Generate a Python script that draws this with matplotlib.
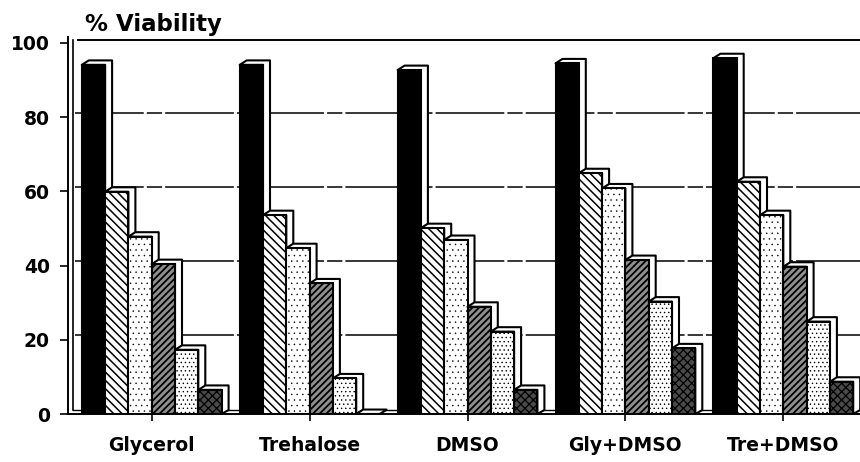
import matplotlib
matplotlib.use("Agg")
import matplotlib.pyplot as plt
from matplotlib.patches import Rectangle, Polygon
import numpy as np

plt.rcParams['font.family'] = ['DejaVu Sans']
plt.rcParams['hatch.linewidth'] = 1.0

# Cryoprotectant treatments (x groups)
categories = ["Glycerol", "Trehalose", "DMSO", "Gly+DMSO", "Tre+DMSO"]

# Six series per treatment, % viability
series_1 = [94.1, 94.1, 92.7, 94.5, 95.9]
series_2 = [59.9, 53.6, 50.1, 64.9, 62.6]
series_3 = [47.8, 44.7, 46.9, 60.8, 53.6]
series_4 = [40.4, 35.2, 28.9, 41.5, 39.7]
series_5 = [17.3, 9.6, 22.2, 30.3, 24.9]
series_6 = [6.5, 0.0, 6.5, 17.7, 8.7]
all_series = [series_1, series_2, series_3, series_4, series_5, series_6]

y_ticks = [0, 20, 40, 60, 80, 100]

# fill style of each series: (facecolor, hatch, hatch linewidth)
styles = [
    ("black", None, 1.0),
    ("white", "\\\\\\\\", 1.1),
    ("white", "...", 0.3),
    ("#8f8f8f", "/////", 1.3),
    ("white", "....", 0.5),
    ("#4a4a4a", "xxxx", 0.9),
]

fig = plt.figure(figsize=(8.6, 4.62), dpi=100)
W, H = 860, 462
ax_left_px, ax_bottom_px, ax_top_px = 68, 414, 37.4
ax = fig.add_axes([ax_left_px / W, (H - ax_bottom_px) / H,
                   1 - ax_left_px / W, (ax_bottom_px - ax_top_px) / H])

group_px = 157.9
xlim = ((68 - 151.7) / group_px, (860 - 151.7) / group_px)
ax.set_xlim(*xlim)
ax.set_ylim(0, 101.5)

bar_w = 23.3 / group_px
dx = 7 / group_px     # depth offset (x, data units)
dy = 1.2              # depth offset (y, data units)

# back-wall gridlines
for v in y_ticks[1:-1]:
    ax.plot([xlim[0] + dx, xlim[1]], [v + dy, v + dy], color="black", lw=1.1,
            linestyle=(0, (45, 2, 10, 2)), zorder=0)
# top frame line
ax.plot([xlim[0] + 10 / group_px, xlim[1]], [100 + dy * 0.6] * 2, color="black",
        lw=1.4, zorder=0, clip_on=False)
# floor line
ax.plot([xlim[0] + 5 / group_px, xlim[1]], [dy * 0.9] * 2, color="black", lw=1.0, zorder=0)
# inner wall line
ax.plot([xlim[0] + 5 / group_px] * 2, [dy * 0.9, 100 + dy * 0.6], color="black",
        lw=1.2, zorder=0, clip_on=False)

n = len(all_series)
for gi in range(len(categories)):
    for si in range(n):
        v = all_series[si][gi]
        x0 = gi + (si - n / 2) * bar_w
        x1 = x0 + bar_w
        z = 2 + si * 0.1 + gi
        depth = Polygon([(x0, v), (x0 + dx, v + dy), (x1 + dx, v + dy),
                         (x1 + dx, dy * 0.9), (x1, 0), (x1, v)],
                        closed=True, facecolor="white", edgecolor="black",
                        lw=1.5, zorder=z, joinstyle="round")
        ax.add_patch(depth)
        fc, hatch, hlw = styles[si]
        front = Rectangle((x0, 0), bar_w, v, facecolor=fc, edgecolor="black",
                          hatch=hatch, lw=1.5, zorder=z + 0.01)
        if hasattr(front, "set_hatch_linewidth"):
            front.set_hatch_linewidth(hlw)
        ax.add_patch(front)

for s in ["top", "right"]:
    ax.spines[s].set_visible(False)
ax.spines["left"].set_linewidth(1.4)
ax.spines["bottom"].set_linewidth(1.4)

ax.set_yticks(y_ticks)
ax.set_yticklabels([str(t) for t in y_ticks], fontsize=13.5, fontweight="bold")
ax.tick_params(axis="y", direction="out", length=6, width=1.2, pad=7)

ax.set_xticks(range(len(categories)))
ax.set_xticklabels(categories, fontsize=13.5, fontweight="bold")
ax.tick_params(axis="x", direction="out", length=5, width=1.2, pad=11)

fig.text(85 / W, 1 - 31 / H, "% Viability", fontsize=16.5, fontweight="bold",
         va="baseline", ha="left")

fig.savefig("out.png", dpi=100)
